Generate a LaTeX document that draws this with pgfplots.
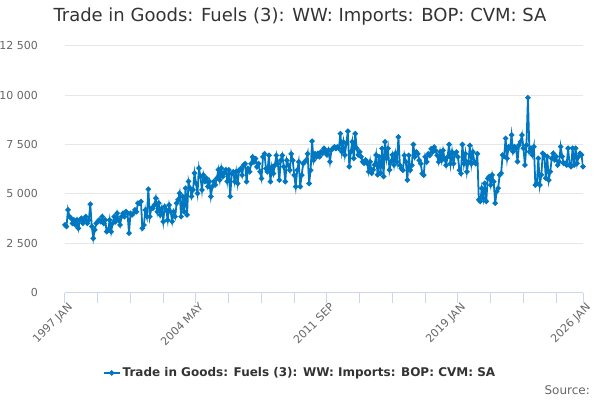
\documentclass[border=0pt]{standalone}
\usepackage{pgfplots}
\usepackage{pgfplotstable}
\pgfplotsset{compat=1.18}
\usepackage{fontspec}
\setmainfont{DejaVu Sans}
\definecolor{series}{RGB}{0,119,192}
\definecolor{gridc}{RGB}{230,230,230}
\definecolor{axisc}{RGB}{204,214,235}
\definecolor{labc}{RGB}{102,102,102}
\definecolor{titc}{RGB}{51,51,51}

\pgfplotstableread{
v
3430
3350
4190
3850
3770
3510
3680
3430
3680
3260
3680
3770
3510
3680
3850
3510
3680
4480
3350
2750
3180
3510
3600
3680
3600
3850
3510
3680
3090
3180
3680
3090
3510
3850
3600
4020
3680
3430
3850
4020
3850
4100
4020
3010
4020
3940
4020
4190
4100
4530
4530
4610
3260
3430
4190
3850
5240
3850
4270
4270
4440
4780
4100
4530
3940
4270
3600
4360
4190
3680
4440
4100
3600
4100
3850
4530
4700
5030
3850
4870
4100
5290
3940
5630
5290
4870
5200
6050
5540
5030
6300
5880
5200
5960
5630
5790
5370
5630
4870
5370
5630
5460
5790
6220
5710
6300
5880
6050
6220
5630
6220
4870
6030
6120
5620
6120
5530
6200
6280
5950
6450
6530
5620
6280
6120
6530
6870
6620
6780
6370
6530
6120
5780
6870
7030
6280
6120
6950
5620
6370
6030
6450
6950
6530
5700
6700
6950
6370
5620
6700
6450
6200
7030
6700
5950
5370
6200
6620
5370
5950
6530
6620
6700
7030
5530
6200
7670
6700
7030
6870
7050
6880
7130
7050
7300
7130
6970
7220
6630
7220
7300
7380
7300
7380
7300
8050
7130
7630
6970
7550
8170
6380
7130
7630
6800
8050
7300
6970
7130
6880
6630
6550
6720
6550
6130
6630
6050
6220
6470
6970
5970
6880
6050
7300
5880
7630
6800
7300
6220
6630
6970
6470
7050
6630
7880
6450
6280
6200
6950
6620
5700
6950
6200
6450
7500
6870
7120
7030
6700
6530
6030
5950
6870
6620
7030
6950
7280
7120
7370
7200
6950
6620
7120
6700
7200
6780
6450
6870
7500
6530
7120
6530
7030
7120
6870
6200
6030
7500
6530
7030
6120
6620
7450
6530
7120
6620
6530
7030
4700
4620
5280
4780
5530
4620
5780
5880
5450
5960
5620
4530
5120
5290
5960
6040
6970
6890
7810
6800
7390
7310
7980
7140
7390
7310
6630
7470
7640
7980
7310
6460
7470
9870
7140
7310
6970
7390
5450
5540
6800
5450
5960
7050
6970
5800
6890
5700
6130
6800
7050
6720
6890
6460
6630
7390
6890
6550
6550
6460
7310
6460
6380
7310
6460
7310
6550
6890
7050
6970
6380
}\fueldata

\begin{document}
\begin{tikzpicture}
\begin{axis}[
  scale only axis,
  width=518pt, height=247pt,
  xmin=0, xmax=348, ymin=0, ymax=12500,
  axis lines*=left,
  y axis line style={draw=none},
  x axis line style={axisc, line width=1pt},
  ymajorgrids,
  grid style={gridc, line width=1pt},
  scaled y ticks=false,
  ytick={0,2500,5000,7500,10000,12500},
  yticklabels={0,2 500,5 000,7 500,10 000,12 500},
  ytick style={draw=none},
  xtick={0,88,176,264,348},
  xticklabels={1997 JAN,2004 MAY,2011 SEP,2019 JAN,2026 JAN},
  minor xtick={22,44,66,110,132,154,198,220,242,286,308,330},
  tick align=outside,
  major tick length=10pt,
  minor tick length=10pt,
  xtick style={axisc, line width=1pt},
  minor x tick style={axisc, line width=1pt},
  xticklabel style={font=\fontsize{11}{13}\selectfont, text=labc, rotate=45, anchor=north east, inner sep=1pt, xshift=3pt},
  yticklabel style={font=\fontsize{11}{13}\selectfont, text=labc, anchor=east, inner sep=0pt, xshift=-17pt},
  legend style={at={(0.4537,-0.325)}, anchor=center, draw=none, fill=none,
    font=\bfseries\fontsize{12}{14}\selectfont, text=titc},
  legend image code/.code={\draw[mark repeat=2,mark phase=2] plot coordinates {(0pt,0pt)(8pt,0pt)(16pt,0pt)};},
]
\addplot[series, line width=1.8pt, mark=*, mark size=1.7pt] table[x expr=\coordindex, y=v]{\fueldata};
\addlegendentry{Trade in Goods: Fuels (3): WW: Imports: BOP: CVM: SA}
\end{axis}
\node[text=titc, font=\fontsize{18}{21}\selectfont] at ([shift={(235pt,275.7pt)}]current axis.south west) {Trade in Goods: Fuels (3): WW: Imports: BOP: CVM: SA};
\node[text=labc, font=\fontsize{12}{14}\selectfont, anchor=east, inner sep=0pt] at ([shift={(525pt,-97.3pt)}]current axis.south west) {Source:};
\pgfresetboundingbox
\path ([shift={(-65pt,-107.3pt)}]current axis.south west) rectangle ++(600pt,400pt);
\end{tikzpicture}
\end{document}
